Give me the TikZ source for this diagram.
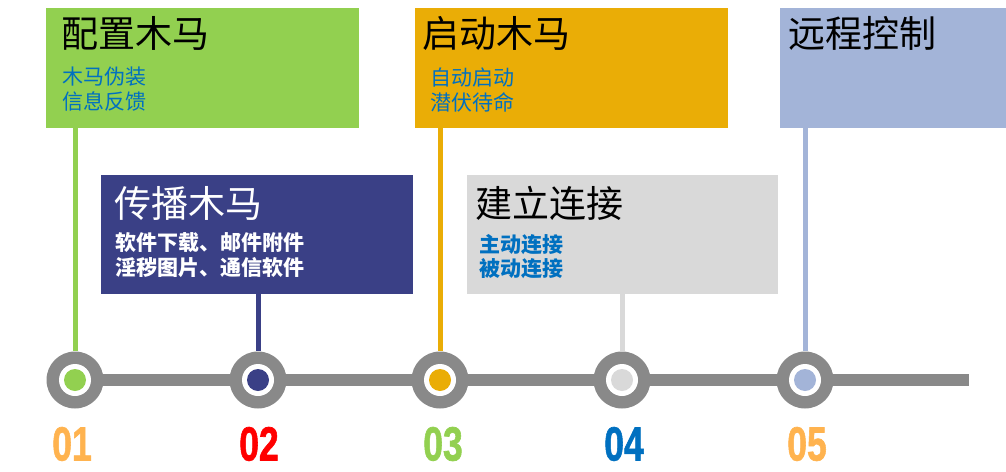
\documentclass[tikz,border=0pt]{standalone}
\usepackage{fontspec}
\setmainfont{Liberation Sans}
\newfontfamily\cjk{Noto Sans CJK SC}
\newfontfamily\numfont{Liberation Sans}[FakeBold=1.5]
\definecolor{cgreen}{HTML}{92D050}
\definecolor{cnavy}{HTML}{3A4086}
\definecolor{corange}{HTML}{EAAD06}
\definecolor{clgray}{HTML}{D9D9D9}
\definecolor{cblue}{HTML}{A3B4D8}
\definecolor{cbar}{HTML}{898989}
\definecolor{csub}{HTML}{0070C0}
\definecolor{cnumo}{HTML}{FFB34F}
\definecolor{cnumr}{HTML}{FF0000}
\definecolor{cnumg}{HTML}{92D050}
\definecolor{cnumb}{HTML}{0070C0}
\begin{document}
\begin{tikzpicture}[x=1pt,y=-1pt,
  box/.style={rectangle, inner sep=0, anchor=north west},
  title/.style={anchor=west, inner sep=0, font=\cjk\fontsize{37}{42}\selectfont},
  sub/.style={anchor=west, inner sep=0, align=left, font=\cjk\fontsize{21}{25}\selectfont},
  subb/.style={sub, font=\cjk\bfseries\fontsize{21}{24.5}\selectfont},
  stem/.style={line width=5pt},
  ring/.style={circle, fill=cbar, minimum size=57pt, inner sep=0},
  hole/.style={circle, fill=white, minimum size=32pt, inner sep=0},
  dot/.style={circle, minimum size=22pt, inner sep=0},
  num/.style={inner sep=0, font=\numfont\bfseries\fontsize{48}{48}\selectfont},
  bar/.style={line width=12pt, cbar}
]
\useasboundingbox (0,0) rectangle (1006,471);
% positions of timeline rings
\coordinate (p1) at (75,380);
\coordinate (p2) at (258,380);
\coordinate (p3) at (440,380);
\coordinate (p4) at (622,380);
\coordinate (p5) at (805,380);
\coordinate (barend) at (969,380);
% boxes
\node[box, fill=cgreen, minimum width=313pt, minimum height=120pt] (b1) at (46,8) {};
\node[box, fill=cnavy, minimum width=312pt, minimum height=119pt] (b2) at (101,175) {};
\node[box, fill=corange, minimum width=313pt, minimum height=120pt] (b3) at (415,8) {};
\node[box, fill=clgray, minimum width=311pt, minimum height=119pt] (b4) at (467,175) {};
\node[box, fill=cblue, minimum width=226pt, minimum height=120pt] (b5) at (780,8) {};
% bar
\draw[bar] (p1) -- (barend);
% rings
\foreach \i/\c in {1/cgreen,2/cnavy,3/corange,4/clgray,5/cblue}{
  \node[ring] (r\i) at (p\i) {};
  \node[hole] (h\i) at (p\i) {};
  \node[dot, fill=\c] (d\i) at (p\i) {};
}
% stems
\draw[stem, cgreen] (r1 |- b1.south) -- (r1.north);
\draw[stem, cnavy] (r2 |- b2.south) -- (r2.north);
\draw[stem, corange] (r3 |- b3.south) -- (r3.north);
\draw[stem, clgray] (r4 |- b4.south) -- (r4.north);
\draw[stem, cblue] (r5 |- b5.south) -- (r5.north);
% titles
\node[title] (t1) at (61,33) {配置木马};
\node[title, text=white] (t2) at (114,203) {传播木马};
\node[title] (t3) at (422,33) {启动木马};
\node[title] (t4) at (475,203) {建立连接};
\node[title] (t5) at (788,33) {远程控制};
% sub texts
\node[sub, text=csub] (s1) at (62,89.5) {木马伪装\\信息反馈};
\node[subb, text=white] (s2) at (115,255) {软件下载、邮件附件\\淫秽图片、通信软件};
\node[sub, text=csub] (s3) at (430,90) {自动启动\\潜伏待命};
\node[subb, text=csub] (s4) at (479,256.5) {主动连接\\被动连接};
% numbers
\node[num, text=cnumo] (n1) at (72,444) {\scalebox{0.74}[1]{01}};
\node[num, text=cnumr] (n2) at (259,444) {\scalebox{0.74}[1]{02}};
\node[num, text=cnumg] (n3) at (443,444) {\scalebox{0.74}[1]{03}};
\node[num, text=cnumb] (n4) at (624,444) {\scalebox{0.74}[1]{04}};
\node[num, text=cnumo] (n5) at (807,444) {\scalebox{0.74}[1]{05}};
\end{tikzpicture}
\end{document}
